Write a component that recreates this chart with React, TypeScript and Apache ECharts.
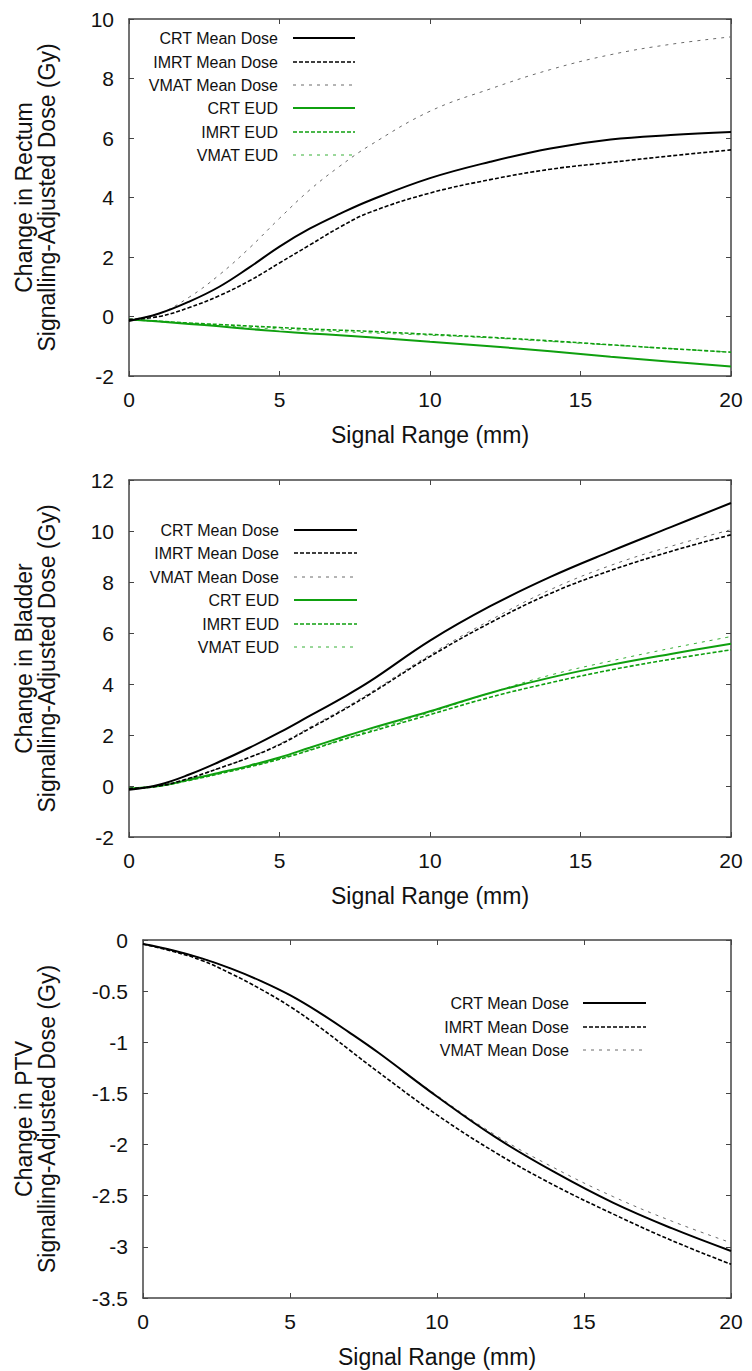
import React, { useEffect, useRef } from "react";
import * as echarts from "echarts";

const X = [0, 1, 2, 3, 4, 5, 6, 7, 8, 10, 12, 14, 16, 18, 20];

// Panel 1: Rectum
const rectumCrtMean = [-0.15, 0.1, 0.5, 1.0, 1.65, 2.35, 2.95, 3.45, 3.9, 4.65, 5.2, 5.65, 5.95, 6.1, 6.2];
const rectumImrtMean = [-0.1, 0.0, 0.3, 0.7, 1.2, 1.8, 2.4, 3.0, 3.5, 4.15, 4.6, 4.95, 5.18, 5.4, 5.6];
const rectumVmatMean = [-0.1, 0.1, 0.65, 1.4, 2.3, 3.3, 4.25, 5.05, 5.75, 6.9, 7.65, 8.3, 8.8, 9.15, 9.4];
const rectumCrtEud = [-0.1, -0.17, -0.25, -0.33, -0.42, -0.5, -0.57, -0.63, -0.7, -0.85, -1.0, -1.17, -1.35, -1.52, -1.68];
const rectumImrtEud = [-0.1, -0.16, -0.22, -0.27, -0.32, -0.37, -0.42, -0.46, -0.5, -0.6, -0.7, -0.82, -0.95, -1.08, -1.2];
const rectumVmatEud = [-0.1, -0.17, -0.24, -0.31, -0.37, -0.42, -0.47, -0.51, -0.55, -0.63, -0.72, -0.84, -0.96, -1.08, -1.2];

// Panel 2: Bladder
const bladderCrtMean = [-0.15, 0.05, 0.45, 0.95, 1.5, 2.1, 2.75, 3.4, 4.1, 5.7, 7.05, 8.2, 9.2, 10.15, 11.1];
const bladderImrtMean = [-0.1, 0.0, 0.3, 0.7, 1.12, 1.62, 2.25, 2.9, 3.6, 5.08, 6.4, 7.55, 8.45, 9.2, 9.85];
const bladderVmatMean = [-0.1, 0.0, 0.3, 0.7, 1.12, 1.65, 2.3, 2.95, 3.65, 5.15, 6.5, 7.7, 8.65, 9.4, 10.05];
const bladderCrtEud = [-0.1, 0.0, 0.25, 0.52, 0.8, 1.12, 1.5, 1.88, 2.25, 2.93, 3.65, 4.25, 4.75, 5.18, 5.58];
const bladderImrtEud = [-0.1, 0.0, 0.22, 0.48, 0.75, 1.05, 1.4, 1.78, 2.12, 2.8, 3.48, 4.05, 4.55, 4.97, 5.34];
const bladderVmatEud = [-0.1, 0.0, 0.23, 0.5, 0.77, 1.07, 1.42, 1.8, 2.17, 2.88, 3.65, 4.35, 4.9, 5.4, 5.86];

// Panel 3: PTV
const ptvCrtMean = [-0.04, -0.1, -0.18, -0.28, -0.4, -0.54, -0.71, -0.9, -1.1, -1.53, -1.93, -2.27, -2.57, -2.82, -3.04];
const ptvImrtMean = [-0.04, -0.11, -0.2, -0.33, -0.48, -0.65, -0.85, -1.07, -1.29, -1.71, -2.08, -2.4, -2.68, -2.94, -3.17];
const ptvVmatMean = [-0.04, -0.1, -0.18, -0.28, -0.4, -0.54, -0.71, -0.9, -1.1, -1.52, -1.91, -2.23, -2.51, -2.75, -2.96];

const SERIES_NAMES = ["CRT Mean Dose", "IMRT Mean Dose", "VMAT Mean Dose", "CRT EUD", "IMRT EUD", "VMAT EUD"];

const Y_TITLES = [
  "Change in Rectum\nSignalling-Adjusted Dose (Gy)",
  "Change in Bladder\nSignalling-Adjusted Dose (Gy)",
  "Change in PTV\nSignalling-Adjusted Dose (Gy)",
];
const X_TITLE = "Signal Range (mm)";

const FONT = "Liberation Sans, Arial, Helvetica, sans-serif";
const GREEN = "#0fa00f";
const STYLES = [
  { color: "#000000", width: 2, dash: "solid" as any },
  { color: "#000000", width: 1.6, dash: [4, 2] },
  { color: "#6a6a6a", width: 1, dash: [3, 5] },
  { color: GREEN, width: 2, dash: "solid" as any },
  { color: GREEN, width: 1.6, dash: [4, 2] },
  { color: "#36b036", width: 1, dash: [3, 5] },
];

const GRIDS = [
  { left: 129, top: 19, width: 602, height: 357, min: -2, max: 10, interval: 2 },
  { left: 129, top: 480, width: 602, height: 357, min: -2, max: 12, interval: 2 },
  { left: 143, top: 940, width: 588, height: 358, min: -3.5, max: 0, interval: 0.5 },
];

const PANEL_DATA = [
  [rectumCrtMean, rectumImrtMean, rectumVmatMean, rectumCrtEud, rectumImrtEud, rectumVmatEud],
  [bladderCrtMean, bladderImrtMean, bladderVmatMean, bladderCrtEud, bladderImrtEud, bladderVmatEud],
  [ptvCrtMean, ptvImrtMean, ptvVmatMean],
];

const LEGENDS = [
  { textRight: 278, x1: 293, x2: 355, rows: [38, 62, 85, 108, 132, 155] },
  { textRight: 279, x1: 294, x2: 357, rows: [530, 553, 577, 600, 624, 647] },
  { textRight: 569, x1: 583, x2: 646, rows: [1003, 1027, 1050] },
];

export default function App() {
  const ref = useRef<HTMLDivElement>(null);
  useEffect(() => {
    if (!ref.current) return;
    const chart = echarts.init(ref.current, undefined, { renderer: "svg" });
    const axisLine = { show: true, onZero: false, lineStyle: { color: "#444", width: 1.5 } };
    const axisTick = { show: true, inside: true, length: 5, lineStyle: { color: "#444", width: 1 } };
    const grid: any[] = [];
    const xAxis: any[] = [];
    const yAxis: any[] = [];
    const series: any[] = [];
    const graphic: any[] = [];

    GRIDS.forEach((g, i) => {
      grid.push({ left: g.left, top: g.top, width: g.width, height: g.height, containLabel: false });
      xAxis.push({
        type: "value", gridIndex: i, position: "bottom", min: 0, max: 20, interval: 5,
        axisLine, axisTick, splitLine: { show: false },
        axisLabel: { color: "#111", fontSize: 21, fontFamily: FONT, margin: 13 },
        name: X_TITLE, nameLocation: "middle", nameGap: 47,
        nameTextStyle: { color: "#111", fontSize: 23, fontFamily: FONT },
      });
      xAxis.push({
        type: "value", gridIndex: i, position: "top", min: 0, max: 20, interval: 5,
        axisLine, axisTick, splitLine: { show: false }, axisLabel: { show: false },
      });
      yAxis.push({
        type: "value", gridIndex: i, position: "left", min: g.min, max: g.max, interval: g.interval,
        axisLine, axisTick, splitLine: { show: false },
        axisLabel: { color: "#111", fontSize: 21, fontFamily: FONT, margin: 15 },
      });
      yAxis.push({
        type: "value", gridIndex: i, position: "right", min: g.min, max: g.max, interval: g.interval,
        axisLine, axisTick, splitLine: { show: false }, axisLabel: { show: false },
      });

      const arrs = PANEL_DATA[i];
      const order = arrs.map((_, k) => k).reverse();
      order.forEach((k) => {
        const st = STYLES[k];
        series.push({
          type: "line", name: SERIES_NAMES[k], xAxisIndex: i * 2, yAxisIndex: i * 2,
          data: X.map((x, j) => [x, arrs[k][j]]),
          showSymbol: false, smooth: 0.4,
          lineStyle: { color: st.color, width: st.width, type: st.dash },
          z: 10 - k,
        });
      });

      graphic.push({
        type: "text", x: 35.5, y: g.top + g.height / 2, rotation: Math.PI / 2,
        style: {
          text: Y_TITLES[i], fill: "#111", font: `23px ${FONT}`,
          textAlign: "center", textVerticalAlign: "middle", lineHeight: 23,
        },
      });

      const lg = LEGENDS[i];
      lg.rows.forEach((ry, k) => {
        const st = STYLES[k];
        graphic.push({
          type: "text", x: lg.textRight, y: ry,
          style: { text: SERIES_NAMES[k], fill: "#111", font: `16px ${FONT}`, textAlign: "right", textVerticalAlign: "middle" },
        });
        graphic.push({
          type: "line", shape: { x1: lg.x1, y1: ry, x2: lg.x2, y2: ry },
          style: { stroke: st.color, lineWidth: st.width, lineDash: st.dash === "solid" ? null : st.dash },
        });
      });
    });

    chart.setOption({
      animation: false,
      backgroundColor: "#ffffff",
      grid, xAxis, yAxis, series, graphic,
    });
    return () => chart.dispose();
  }, []);
  return (
    <div
      ref={ref}
      style={{ position: "fixed", left: 0, top: 0, width: 752, height: 1371, background: "#fff" }}
    />
  );
}
